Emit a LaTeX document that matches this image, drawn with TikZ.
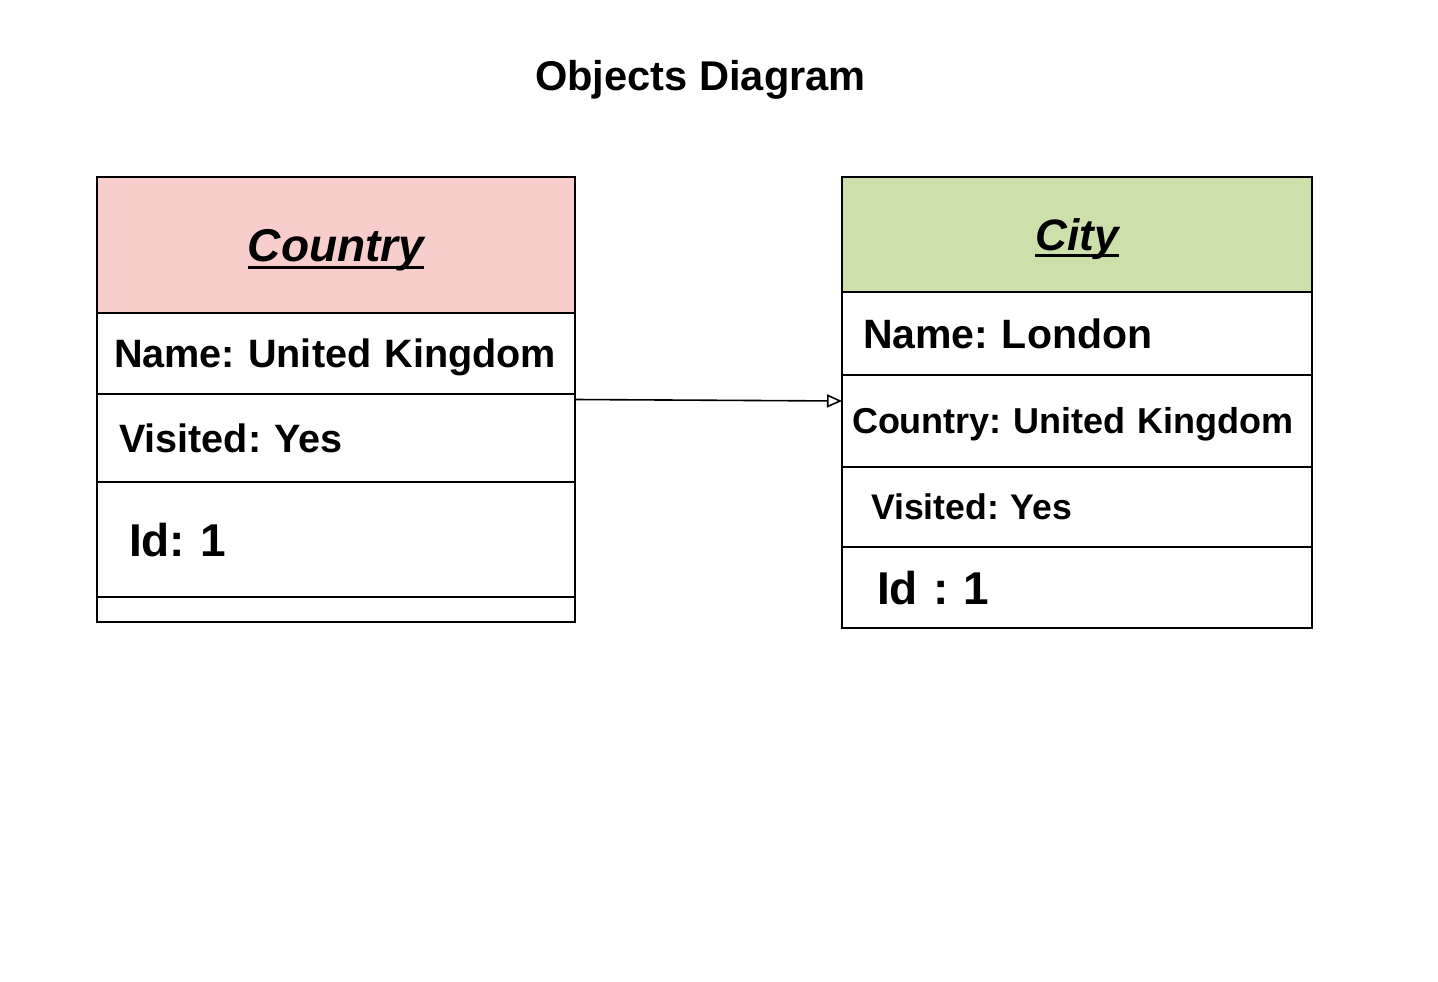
\documentclass[tikz,border=0pt]{standalone}
\usepackage{fontspec}
\setmainfont{Liberation Sans}
\frenchspacing
\usetikzlibrary{arrows.meta,calc}
\definecolor{pinkhdr}{RGB}{248,206,204}
\definecolor{greenhdr}{RGB}{205,224,172}
\newcommand\myul[1]{\setbox0\hbox{#1}\rlap{\vrule height -4pt depth 7pt width \wd0}\box0}
\tikzset{
  box/.style={draw, line width=2pt, anchor=north west, inner ysep=0pt, outer sep=0pt, align=left, font=\bfseries},
  hdr/.style={draw, line width=2pt, anchor=north west, inner sep=0pt, outer sep=0pt, align=center, font=\bfseries\itshape},
}
\begin{document}
\begin{tikzpicture}[x=1pt,y=-1pt]
\useasboundingbox[fill=white] (0,0) rectangle (1438,982);
\node[anchor=base, inner sep=0pt, font=\bfseries\fontsize{41.6}{48}\selectfont] (title) at (700.5,90) {Objects Diagram};
% Country object
\node[hdr, fill=pinkhdr, minimum width=478pt, minimum height=136pt, text height=33pt, text depth=0pt, font=\bfseries\itshape\fontsize{46}{54}\selectfont] (chdr) at (97,177) {\myul{Country}};
\node[box, minimum width=478pt, minimum height=81pt, inner xsep=17pt, text width=444pt, text height=28.3pt, text depth=0pt, font=\bfseries\fontsize{39.6}{48}\selectfont] (cname) at (97,313) {\mbox{Name: United Kingdom}};
\node[box, minimum width=478pt, minimum height=88pt, inner xsep=22pt, text width=434pt, text height=28.3pt, text depth=0pt, font=\bfseries\fontsize{39.6}{48}\selectfont] (cvis) at (97,394) {\mbox{Visited: Yes}};
\node[box, minimum width=478pt, minimum height=115pt, inner xsep=32pt, text width=414pt, text height=33pt, text depth=0pt, font=\bfseries\fontsize{46}{54}\selectfont] (cid) at (97,482) {\mbox{Id: 1}};
\node[box, minimum width=478pt, minimum height=25pt, inner sep=0pt] (cempty) at (97,597) {};
% City object
\node[hdr, fill=greenhdr, minimum width=470pt, minimum height=115pt, text height=31.5pt, text depth=0pt, font=\bfseries\itshape\fontsize{44}{52}\selectfont] (yhdr) at (842,177) {\myul{City}};
\node[box, minimum width=470pt, minimum height=83pt, inner xsep=21pt, text width=428pt, text height=29.3pt, text depth=0pt, font=\bfseries\fontsize{41}{49}\selectfont] (yname) at (842,292) {\mbox{Name: London}};
\node[box, minimum width=470pt, minimum height=92pt, inner xsep=10pt, text width=450pt, text height=25.8pt, text depth=0pt, font=\bfseries\fontsize{36}{43}\selectfont] (yco) at (842,375) {\mbox{Country: United Kingdom}};
\node[box, minimum width=470pt, minimum height=80pt, inner xsep=29pt, text width=412pt, text height=25.8pt, text depth=0pt, font=\bfseries\fontsize{35.6}{43}\selectfont] (yvis) at (842,467) {\mbox{Visited: Yes}};
\node[box, minimum width=470pt, minimum height=81pt, inner xsep=35pt, text width=400pt, text height=33pt, text depth=0pt, font=\bfseries\fontsize{46}{54}\selectfont] (yid) at (842,547) {\mbox{Id : 1}};
% association
\coordinate (aS) at ($(cvis.north east)+(0,5.5)$);
\coordinate (aE) at ($(yco.west)+(0,-20)$);
\draw[line width=1.6pt, -{Triangle[open, length=15pt, width=13pt, line width=1.6pt]}] (aS) -- (aE);
\end{tikzpicture}
\end{document}
